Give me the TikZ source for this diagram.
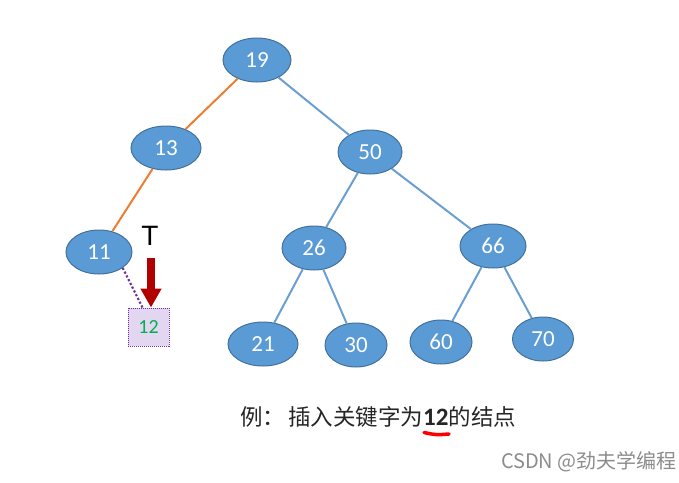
\documentclass[tikz,border=0pt]{standalone}
\usepackage{fontspec}
\setmainfont{Carlito}
\newfontfamily\cjk{Noto Sans CJK SC}
\newfontfamily\arialfont{Liberation Sans}
\usetikzlibrary{shapes.geometric,arrows.meta}
\definecolor{nodefill}{HTML}{5B9BD5}
\definecolor{nodeline}{HTML}{41719C}
\definecolor{edgeblue}{HTML}{6A9FD3}
\definecolor{edgeorange}{HTML}{ED7D31}
\definecolor{sqfill}{HTML}{E2D6F0}
\definecolor{sqline}{HTML}{7030A0}
\definecolor{arrowred}{HTML}{B00000}
\definecolor{numgreen}{HTML}{00B050}
\tikzset{
  keynode/.style={ellipse, draw=nodeline, line width=1pt, fill=nodefill, text=white,
    minimum width=#1, minimum height=44pt, inner sep=0pt,
    font=\fontsize{23}{26}\selectfont},
  keynode/.default=68pt,
  bedge/.style={draw=edgeblue, line width=2pt},
  oedge/.style={draw=edgeorange, line width=2pt},
}
\begin{document}
\begin{tikzpicture}[x=1pt,y=-1pt]
\useasboundingbox (0,0) rectangle (679,482);
\node[keynode] (n19) at (257,60) {19};
\node[keynode=70pt] (n13) at (166,148) {13};
\node[keynode=64pt] (n50) at (370,152) {50};
\node[keynode=66pt] (n11) at (99,252) {11};
\node[keynode=64pt] (n26) at (314,248) {26};
\node[keynode=66pt] (n66) at (493,246) {66};
\node[keynode=70pt] (n21) at (263,344) {21};
\node[keynode=62pt] (n30) at (356,345) {30};
\node[keynode=62pt] (n60) at (441,342) {60};
\node[keynode=61pt] (n70) at (543,339) {70};
\node[draw=sqline, densely dotted, line width=1pt, fill=sqfill, minimum width=41pt, minimum height=38pt,
  inner sep=0pt, text=numgreen, font=\fontsize{20}{24}\selectfont] (sq) at (148.5,327) {12};
\node[font=\arialfont\fontsize{28}{32}\selectfont, inner sep=0pt] (T) at (150,236) {T};
\coordinate (tstart) at (151,258);

\draw[oedge] (n19) -- (n13);
\draw[oedge] (n13) -- (n11);
\draw[bedge] (n19) -- (n50);
\draw[bedge] (n50) -- (n26);
\draw[bedge] (n50) -- (n66);
\draw[bedge] (n26) -- (n21);
\draw[bedge] (n26) -- (n30);
\draw[bedge] (n66) -- (n60);
\draw[bedge] (n66) -- (n70);
\draw[sqline, dotted, line width=2.2pt] (n11.south east) -- ([xshift=-6pt]sq.north);
\draw[arrowred, line width=8pt, -{Triangle[width=20pt,length=19pt]}] (tstart) -- (sq.north -| tstart);

\node[anchor=west, inner sep=0pt, font=\fontsize{22.5}{26}\selectfont, text=black!85] (cap) at (240,417)
  {{\cjk 例：}\hspace{3pt}{\cjk 插入关键字为}{\fontsize{25}{28}\selectfont\bfseries 12}{\cjk 的结点}};
\draw[red, line width=3.5pt, line cap=round] (424,432.5) .. controls (436,435) .. (449,434);
\node[anchor=east, inner sep=0pt, text=black!45, font=\cjk\fontsize{20}{24}\selectfont] (wm) at (677,462)
  {CSDN @劲夫学编程};
\end{tikzpicture}
\end{document}
